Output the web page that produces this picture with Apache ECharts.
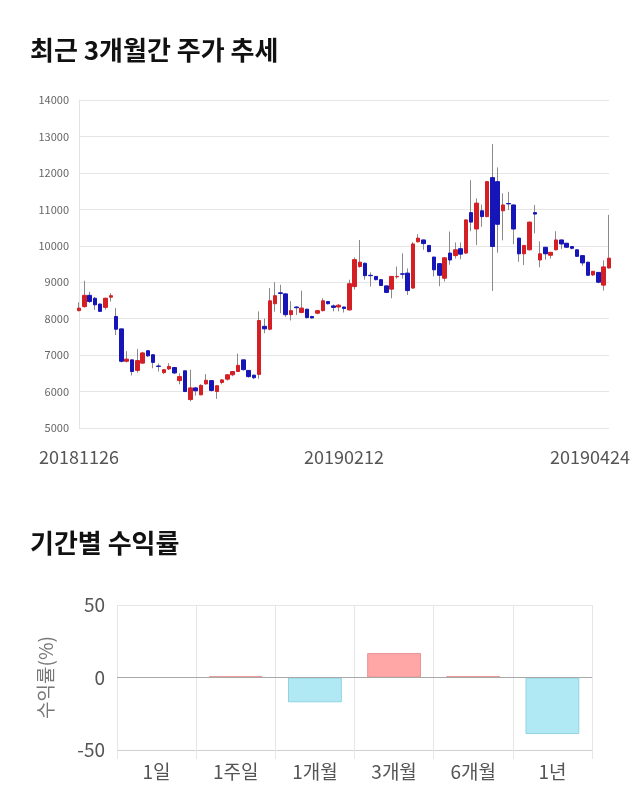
<!DOCTYPE html>
<html>
<head>
<meta charset="utf-8">
<script src="https://cdn.jsdelivr.net/npm/echarts@6/dist/echarts.min.js"></script>
<style>
html,body{margin:0;padding:0;background:#fff;}
#chart{width:640px;height:810px;}
</style>
</head>
<body>
<div id="chart"></div>
<script>
// ---- price chart data (daily OHLC) ----
const dates = [
'20181126','20181127','20181128','20181129','20181130',
'20181203','20181204','20181205','20181206','20181207',
'20181210','20181211','20181212','20181213','20181214',
'20181217','20181218','20181219','20181220','20181221',
'20181224','20181226','20181227','20181228',
'20190102','20190103','20190104',
'20190107','20190108','20190109','20190110','20190111',
'20190114','20190115','20190116','20190117','20190118',
'20190121','20190122','20190123','20190124','20190125',
'20190128','20190129','20190130','20190131',
'20190201','20190207','20190208','20190211','20190212',
'20190213','20190214','20190215',
'20190218','20190219','20190220','20190221','20190222',
'20190225','20190226','20190227','20190228',
'20190304','20190305','20190306','20190307','20190308',
'20190311','20190312','20190313','20190314','20190315',
'20190318','20190319','20190320','20190321','20190322',
'20190325','20190326','20190327','20190328','20190329',
'20190401','20190402','20190403','20190404','20190405',
'20190408','20190409','20190410','20190411','20190412',
'20190415','20190416','20190417','20190418','20190419',
'20190422','20190423','20190424'
];
const opens = [
8220,8330,8640,8560,8400,8310,8590,8060,7720,6830,
6870,6580,6780,7120,7010,6700,6520,6620,6660,6300,
6570,5780,6100,5910,6210,6300,6000,6250,6340,6460,
6550,6870,6580,6450,6470,7790,7710,8410,8710,8680,
8110,8320,8170,8260,8060,8150,8220,8470,8350,8320,
8320,8240,8880,9430,9520,9190,9160,9070,8900,8810,
9150,9230,9250,8840,10110,10160,10010,9690,9510,9110,
9800,9730,9920,9800,10910,10460,10960,10800,11870,11760,
10960,11160,11120,10210,9780,9890,10910,9610,9960,9740,
9890,10160,10070,9980,9890,9730,9550,9200,9270,8920,
9390
];
const closes = [
8290,8640,8470,8380,8200,8560,8630,7710,6830,6890,
6550,6850,7060,6980,6800,6690,6600,6690,6510,6410,
6000,6100,6020,6170,6310,6030,6160,6320,6460,6550,
6720,6600,6410,6380,7950,7720,8490,8630,8690,8110,
8220,8300,8290,8030,8020,8220,8490,8410,8310,8370,
8280,8960,9620,9550,9180,9180,9070,8910,8720,9160,
9160,9220,8770,10050,10210,10060,9840,9340,9190,9670,
9610,9890,9770,10710,10650,11170,10800,11760,9980,10590,
11120,11150,10460,9780,10010,10650,10870,9780,9780,9820,
10160,10050,9960,9930,9710,9530,9190,9300,9000,9420,
9660
];
const lows = [
8200,8300,8430,8240,8190,8250,8470,7550,6800,6800,
6440,6520,6760,6950,6640,6550,6480,6590,6480,6200,
6000,5730,5890,5900,6190,6000,5800,6200,6300,6420,
6540,6580,6380,6340,6350,7600,7680,8190,8150,8050,
7950,8100,8150,8000,8000,8120,8200,8390,8200,8200,
8170,8220,8800,9400,9070,8880,9050,8900,8700,8560,
9100,9100,8650,8820,10090,9890,9820,9160,8890,9020,
9480,9650,9630,9780,10400,10020,10520,10780,8760,9810,
10150,10980,10040,9560,9470,9870,10340,9410,9620,9650,
9870,9910,9940,9900,9700,9450,9180,9170,8970,8770,
9380
];
const highs = [
8450,9040,8740,8600,8420,8580,8700,8290,7720,7110,
6880,7170,7090,7130,7020,6770,6620,6780,6680,6500,
6570,6600,6130,6200,6480,6320,6170,6340,6480,6560,
7040,6880,6590,6460,8200,8000,8840,9000,8930,8700,
8480,8340,8770,8270,8080,8240,8560,8480,8390,8400,
8330,9070,9680,10160,9540,9270,9170,9080,8910,9170,
9430,9790,9380,10100,10320,10170,10020,9700,9520,9690,
10390,10090,10090,10720,11800,11300,11130,11770,12790,12150,
11440,11480,11130,10220,10020,10660,11120,10120,9970,9830,
10400,10170,10080,9990,9900,9740,9560,9310,9280,9600,
10850
];
const dateLabels = ['20181126', '20190212', '20190424'];

// ---- period return data ----
const periods = ['1일', '1주일', '1개월', '3개월', '6개월', '1년'];
const returns = [0, 0.9, -17.1, 16.9, 1.0, -39.0];

const FONT = '"Noto Sans CJK KR", "Noto Sans", sans-serif';
const UP = '#d41f25';
const DOWN = '#1515b8';

const wickData = dates.map((d, i) => [opens[i], closes[i], lows[i], highs[i]]);
const bodyData = dates.map((d, i) => [opens[i], closes[i], Math.min(opens[i], closes[i]), Math.max(opens[i], closes[i])]);
const lastDate = dates[dates.length - 1];

const chart = echarts.init(document.getElementById('chart'), null, {renderer: 'canvas'});
chart.setOption({
  animation: false,
  backgroundColor: '#ffffff',
  textStyle: {fontFamily: FONT},
  title: [
    {text: '최근 3개월간 주가 추세', left: 25, top: 32, padding: 5,
     textStyle: {fontFamily: FONT, fontSize: 26, fontWeight: 'bold', color: '#111'}},
    {text: '기간별 수익률', left: 25, top: 525, padding: 5,
     textStyle: {fontFamily: FONT, fontSize: 26, fontWeight: 'bold', color: '#111'}}
  ],
  grid: [
    {left: 79, right: 31, top: 100, height: 328},
    {left: 117, width: 475, top: 605, height: 145}
  ],
  xAxis: [
    {
      type: 'category', gridIndex: 0, data: dates, boundaryGap: false,
      axisLine: {show: false}, axisTick: {show: false},
      splitLine: {show: false},
      axisLabel: {
        interval: (idx, val) => dateLabels.indexOf(val) >= 0,
        fontSize: 18, color: '#555', margin: 20, fontFamily: FONT,
        formatter: v => v === lastDate ? '{r|' + v + '}' : v,
        rich: {r: {width: 118, align: 'left', fontSize: 18, color: '#555', fontFamily: FONT}}
      }
    },
    {
      type: 'category', gridIndex: 1, data: periods, boundaryGap: true,
      axisLine: {show: true, onZero: false, lineStyle: {color: '#cfcfcf'}},
      axisTick: {show: true, length: 9, lineStyle: {color: '#e6e6e6'}},
      splitLine: {show: true, lineStyle: {color: '#e6e6e6'}},
      axisLabel: {fontSize: 19, color: '#555', margin: 12, fontFamily: FONT}
    }
  ],
  yAxis: [
    {
      type: 'value', gridIndex: 0, min: 5000, max: 14000, interval: 1000,
      axisLine: {show: true, lineStyle: {color: '#e3e3e3'}},
      axisTick: {show: false},
      splitLine: {show: true, lineStyle: {color: '#e6e6e6'}},
      axisLabel: {fontSize: 11, color: '#666', margin: 10, fontFamily: FONT,
                  formatter: v => String(v)}
    },
    {
      type: 'value', gridIndex: 1, min: -50, max: 50, interval: 50,
      name: '수익률(%)', nameLocation: 'middle', nameGap: 62, nameRotate: 90,
      nameTextStyle: {fontSize: 19, color: '#777', fontFamily: FONT},
      axisLine: {show: false}, axisTick: {show: false},
      splitLine: {show: true, lineStyle: {color: '#e6e6e6'}},
      axisLabel: {fontSize: 19, color: '#555', margin: 12, fontFamily: FONT}
    }
  ],
  series: [
    {
      type: 'candlestick', xAxisIndex: 0, yAxisIndex: 0, data: wickData,
      barWidth: 1,
      itemStyle: {color: '#8a8a8a', color0: '#8a8a8a', borderColor: '#8a8a8a', borderColor0: '#8a8a8a', borderWidth: 1}
    },
    {
      type: 'candlestick', xAxisIndex: 0, yAxisIndex: 0, data: bodyData,
      barWidth: 4,
      itemStyle: {color: UP, color0: DOWN, borderColor: UP, borderColor0: DOWN, borderWidth: 1}
    },
    {
      type: 'bar', xAxisIndex: 1, yAxisIndex: 1, barWidth: '68%',
      data: returns.map(v => ({
        value: v,
        itemStyle: v >= 0
          ? {color: '#ffa6a6', borderColor: '#e99494', borderWidth: 1}
          : {color: '#b0e9f3', borderColor: '#92d3e2', borderWidth: 1}
      })),
      markLine: {
        silent: true, symbol: 'none', label: {show: false},
        lineStyle: {color: '#a8a8a8', type: 'solid', width: 1},
        data: [{yAxis: 0}]
      }
    }
  ]
});
</script>
</body>
</html>
